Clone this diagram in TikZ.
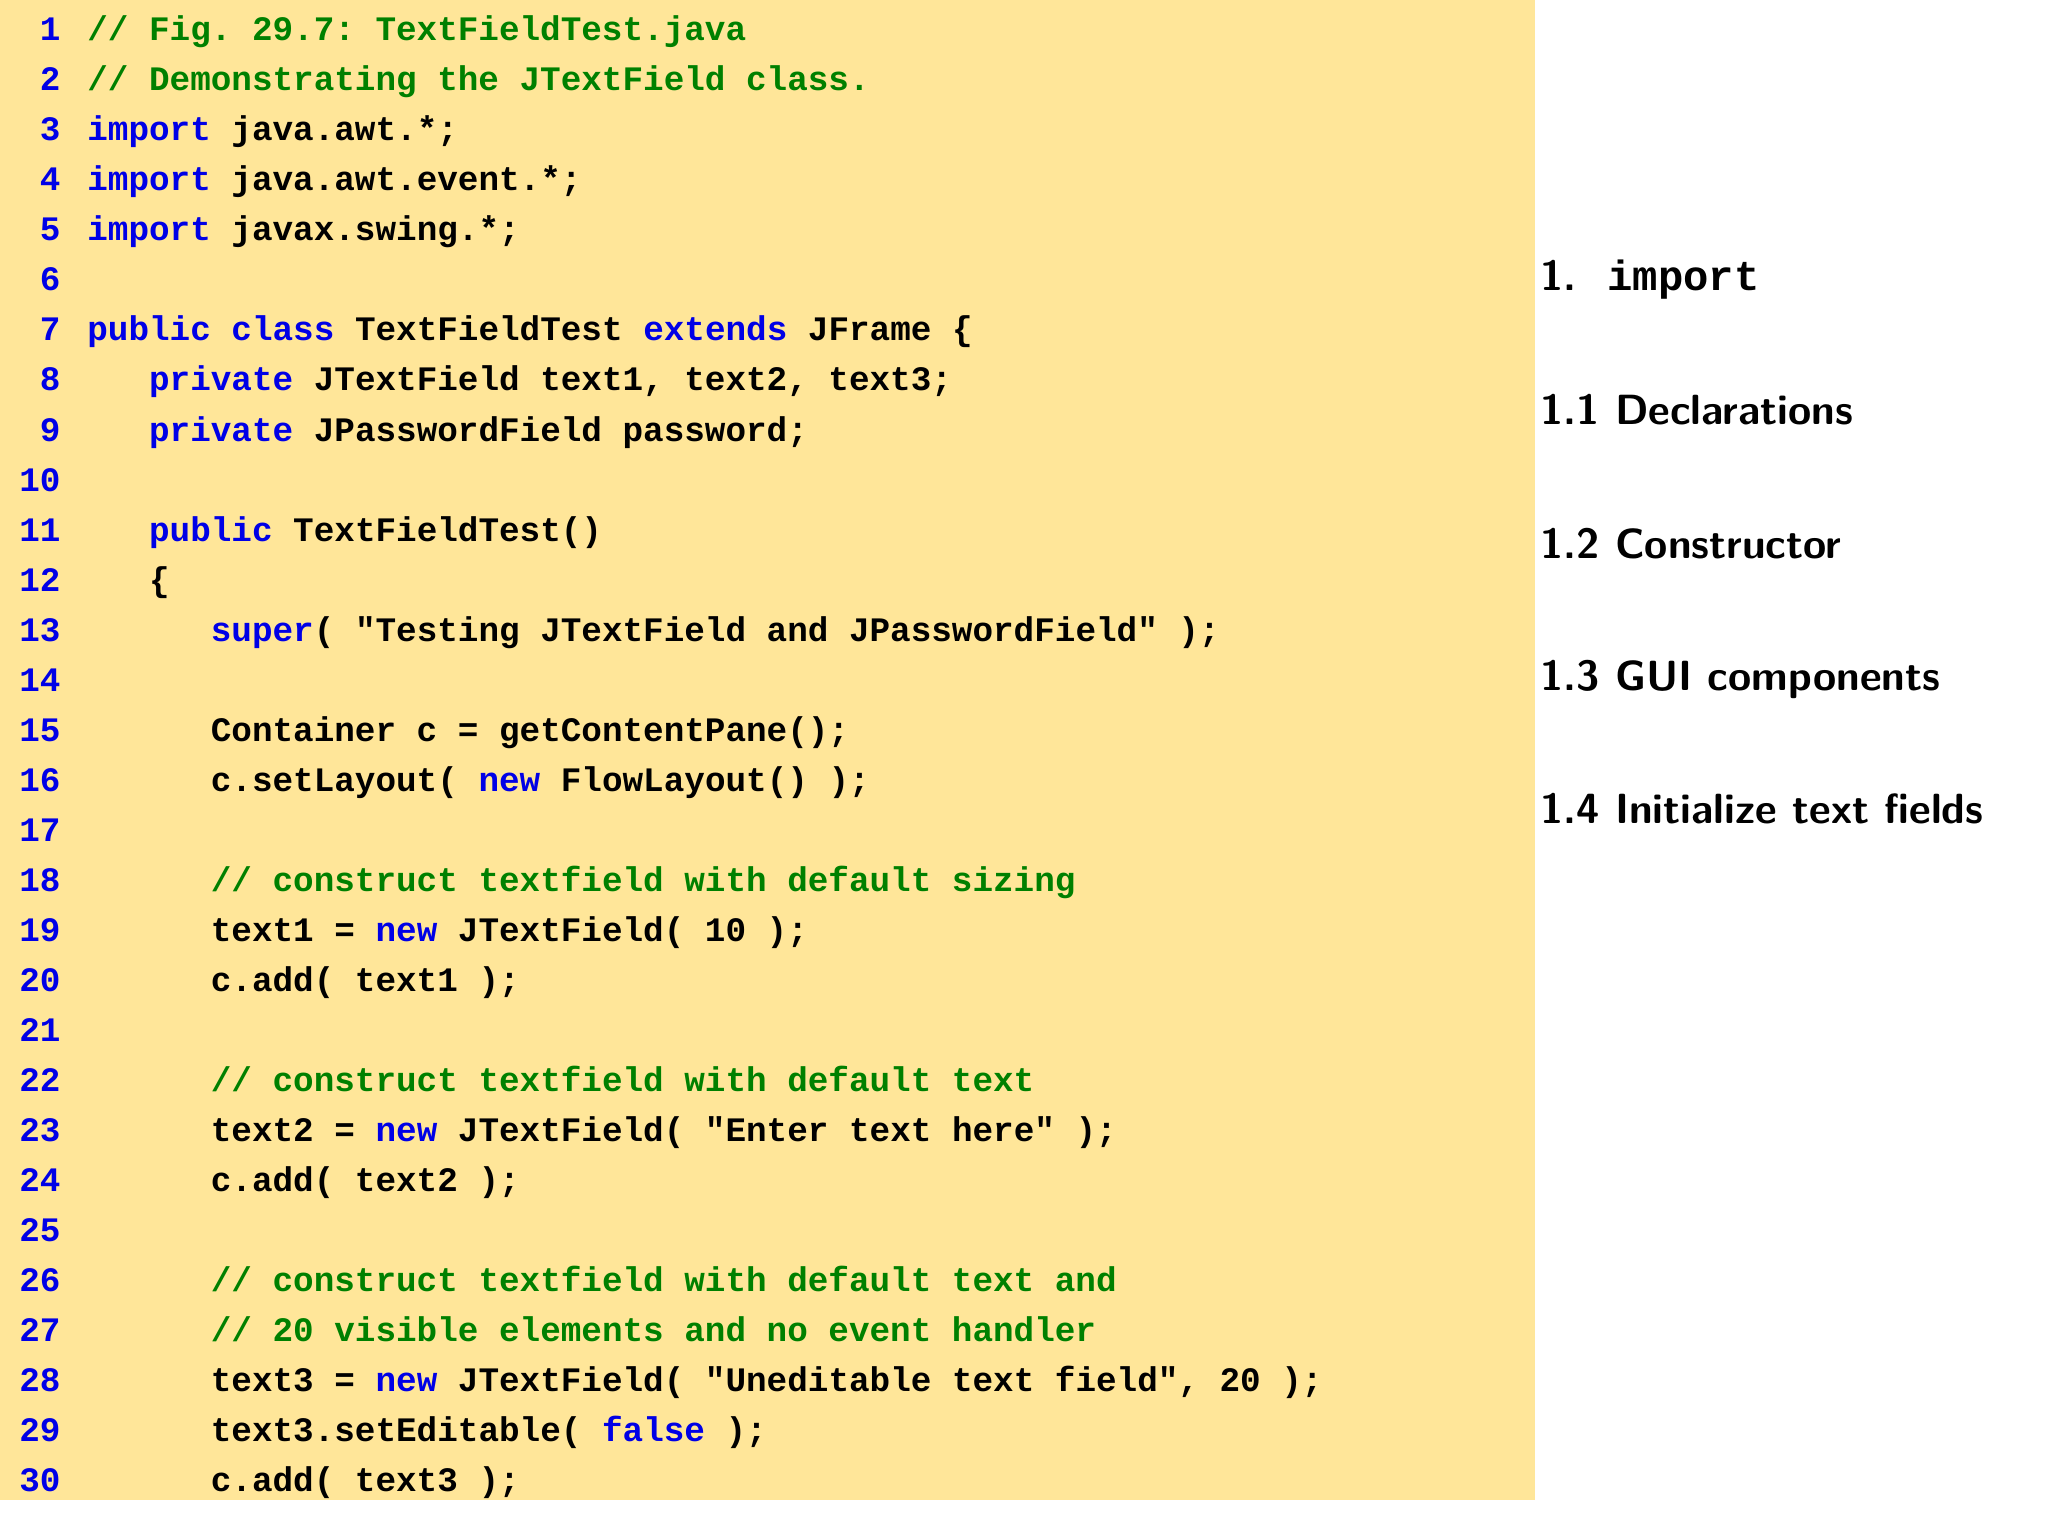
\documentclass[tikz,border=0pt]{standalone}
\usepackage{fontspec}
\setmainfont{Liberation Sans}
\setmonofont{Liberation Mono}
\definecolor{bgy}{RGB}{255,230,153}
\definecolor{kwb}{RGB}{0,0,230}
\definecolor{cmg}{RGB}{0,128,0}
\newcommand{\kw}[1]{\textcolor{kwb}{#1}}
\newcommand{\cm}[1]{\textcolor{cmg}{#1}}
\begin{document}
\begin{tikzpicture}[x=1pt,y=-1pt,
  codeln/.style={anchor=base west,inner sep=0pt,font=\fontsize{26}{26}\ttfamily\bfseries},
  numln/.style={anchor=base east,inner sep=0pt,font=\fontsize{26}{26}\ttfamily\bfseries,text=kwb},
  lbl/.style={anchor=base west,inner sep=0pt,font=\fontsize{32}{32}\sffamily\bfseries}]
\useasboundingbox (0,0) rectangle (1552,1164);
\fill[white] (0,0) rectangle (1552,1164);
\fill[bgy] (0,0) rectangle (1163,1137);
\foreach \i in {1,...,30} {\node[numln] (n\i) at (46,{31+37.9*(\i-1)}) {\i};}
\def\L#1#2{\node[codeln] (l#1) at (66,{31+37.9*(#1-1)}) {#2};}
\L{1}{\cm{// Fig. 29.7: TextFieldTest.java}}
\L{2}{\cm{// Demonstrating the JTextField class.}}
\L{3}{\kw{import} java.awt.*;}
\L{4}{\kw{import} java.awt.event.*;}
\L{5}{\kw{import} javax.swing.*;}
\L{7}{\kw{public} \kw{class} TextFieldTest \kw{extends} JFrame \{}
\L{8}{\ \ \ \kw{private} JTextField text1, text2, text3;}
\L{9}{\ \ \ \kw{private} JPasswordField password;}
\L{11}{\ \ \ \kw{public} TextFieldTest()}
\L{12}{\ \ \ \{}
\L{13}{\ \ \ \ \ \ \kw{super}( "Testing JTextField and JPasswordField" );}
\L{15}{\ \ \ \ \ \ Container c = getContentPane();}
\L{16}{\ \ \ \ \ \ c.setLayout( \kw{new} FlowLayout() );}
\L{18}{\ \ \ \ \ \ \cm{// construct textfield with default sizing}}
\L{19}{\ \ \ \ \ \ text1 = \kw{new} JTextField( 10 );}
\L{20}{\ \ \ \ \ \ c.add( text1 );}
\L{22}{\ \ \ \ \ \ \cm{// construct textfield with default text}}
\L{23}{\ \ \ \ \ \ text2 = \kw{new} JTextField( "Enter text here" );}
\L{24}{\ \ \ \ \ \ c.add( text2 );}
\L{26}{\ \ \ \ \ \ \cm{// construct textfield with default text and}}
\L{27}{\ \ \ \ \ \ \cm{// 20 visible elements and no event handler}}
\L{28}{\ \ \ \ \ \ text3 = \kw{new} JTextField( "Uneditable text field", 20 );}
\L{29}{\ \ \ \ \ \ text3.setEditable( \kw{false} );}
\L{30}{\ \ \ \ \ \ c.add( text3 );}
\node[lbl] (r0) at (1167,220) {1.\ \ {\ttfamily\fontsize{32}{32}\selectfont import}};
\node[lbl] (r1) at (1167,322) {1.1 Declarations};
\node[lbl] (r2) at (1167,423) {1.2 Constructor};
\node[lbl] (r3) at (1167,523) {1.3 GUI components};
\node[lbl] (r4) at (1167,624) {1.4 Initialize text fields};
\end{tikzpicture}
\end{document}
